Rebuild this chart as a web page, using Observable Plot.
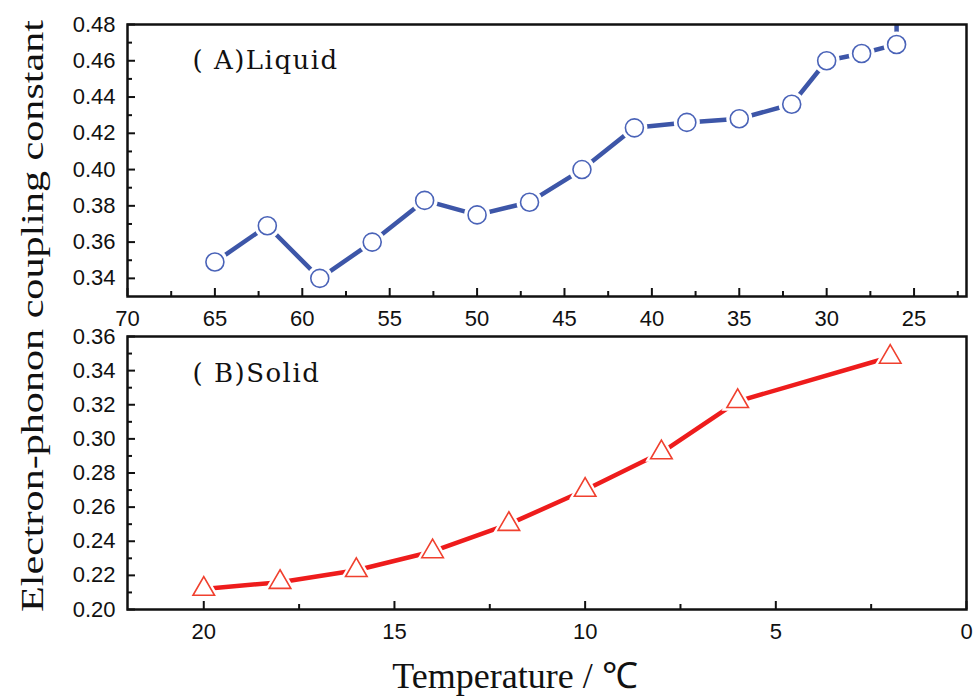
<!DOCTYPE html>
<html><head><meta charset="utf-8">
<script src="https://cdn.jsdelivr.net/npm/d3@7"></script>
<script src="https://cdn.jsdelivr.net/npm/@observablehq/plot@0.6"></script>
<style>
body{margin:0;background:#fff;}
#wrap{position:relative;width:974px;height:698px;overflow:hidden;background:#fff;}
#p1{position:absolute;left:0;top:0;}
#p2{position:absolute;left:0;top:330px;}
#ylab{position:absolute;left:33px;top:316px;transform:translate(-50%,-50%) rotate(-90deg) scale(1.17,0.86);font-family:"Liberation Serif";font-size:36px;line-height:1;white-space:nowrap;color:#111;}
</style>
</head><body>
<div id="wrap"><div id="p1"></div><div id="p2"></div><div id="ylab">Electron-phonon coupling constant</div></div>
<script>
// Panel A: liquid
const liquidTemp = [65, 62, 59, 56, 53, 50, 47, 44, 41, 38, 35, 32, 30, 28, 26];
const liquidEPC  = [0.349, 0.369, 0.340, 0.360, 0.383, 0.375, 0.382, 0.400, 0.423, 0.426, 0.428, 0.436, 0.460, 0.464, 0.469];
const liquidTailTemp = [26, 26];       // line continues upward past the frame
const liquidTailEPC  = [0.469, 0.495];
// Panel B: solid
const solidTemp = [20, 18, 16, 14, 12, 10, 8, 6, 2];
const solidEPC  = [0.212, 0.216, 0.223, 0.234, 0.250, 0.270, 0.292, 0.322, 0.348];
// ticks
const liqXTicks = [70, 65, 60, 55, 50, 45, 40, 35, 30, 25];
const liqXMinor = [67.5, 62.5, 57.5, 52.5, 47.5, 42.5, 37.5, 32.5, 27.5, 22.5];
const liqYTicks = [0.34, 0.36, 0.38, 0.40, 0.42, 0.44, 0.46, 0.48];
const liqYMinor = [0.35, 0.37, 0.39, 0.41, 0.43, 0.45, 0.47];
const solXTicks = [20, 15, 10, 5, 0];
const solXMinor = [17.5, 12.5, 7.5, 2.5];
const solYTicks = [0.20, 0.22, 0.24, 0.26, 0.28, 0.30, 0.32, 0.34, 0.36];
const solYMinor = [0.21, 0.23, 0.25, 0.27, 0.29, 0.31, 0.33, 0.35];
const labelA = "( A)Liquid";
const labelB = "( B)Solid";
const xTitle = "Temperature / ℃";

const liquid = liquidTemp.map((t, i) => ({t, v: liquidEPC[i]}));
const liquidLine = liquid.concat([{t: liquidTailTemp[1], v: liquidTailEPC[1]}]);
const solid = solidTemp.map((t, i) => ({t, v: solidEPC[i]}));

const BLUE = "#3d56a8", BLUE_M = "#4a63b8", RED = "#ee1c1c", RED_M = "#f0402e";
const style = {fontFamily: "Liberation Sans, Arial, sans-serif", fontSize: "22px", color: "#111", background: "white", overflow: "visible"};
const f2 = d3.format(".2f");

function axes(xt, xm, yt, ym) {
  return [
    Plot.axisX({ticks: xt, tickSize: -8, tickPadding: 22, tickFormat: d => String(d), label: null, strokeWidth: 2}),
    Plot.axisX({ticks: xm, tickSize: -5, tickPadding: 0, tickFormat: () => "", label: null, strokeWidth: 2}),
    Plot.axisY({ticks: yt, tickSize: -8, tickPadding: 20, tickFormat: f2, label: null, strokeWidth: 2}),
    Plot.axisY({ticks: ym, tickSize: -5, tickPadding: 0, tickFormat: () => "", label: null, strokeWidth: 2})
  ];
}

const p1 = Plot.plot({
  width: 974, height: 330, marginLeft: 127, marginRight: 8, marginTop: 24, marginBottom: 34,
  style,
  x: {domain: [70, 22]},
  y: {domain: [0.33, 0.48]},
  marks: [
    ...axes(liqXTicks, liqXMinor, liqYTicks, liqYMinor),
    Plot.line(liquidLine, {x: "t", y: "v", stroke: BLUE, strokeWidth: 4.5, clip: true}),
    Plot.dot(liquid, {x: "t", y: "v", r: 13, fill: "white", stroke: null}),
    Plot.dot(liquid, {x: "t", y: "v", r: 9, fill: "white", stroke: BLUE_M, strokeWidth: 1.6}),
    Plot.text([labelA], {frameAnchor: "top-left", dx: 65, dy: 36, textAnchor: "start", lineAnchor: "middle", fontSize: 26, fontFamily: "DejaVu Serif", fill: "#111"}),
    Plot.frame({stroke: "#111", strokeWidth: 2.5})
  ]
});

const p2 = Plot.plot({
  width: 974, height: 368, marginLeft: 127, marginRight: 8, marginTop: 6, marginBottom: 89,
  style,
  x: {domain: [22, 0]},
  y: {domain: [0.20, 0.36]},
  marks: [
    ...axes(solXTicks, solXMinor, solYTicks, solYMinor),
    Plot.line(solid, {x: "t", y: "v", stroke: RED, strokeWidth: 4.5}),
    Plot.dot(solid, {x: "t", y: "v", symbol: "triangle", r: 12, fill: "white", stroke: null}),
    Plot.dot(solid, {x: "t", y: "v", symbol: "triangle", r: 8, fill: "white", stroke: RED_M, strokeWidth: 1.6}),
    Plot.text([labelB], {frameAnchor: "top-left", dx: 65, dy: 37, textAnchor: "start", lineAnchor: "middle", fontSize: 26, fontFamily: "DejaVu Serif", fill: "#111"}),
    Plot.text([xTitle], {frameAnchor: "bottom", dx: -32, dy: 67, lineAnchor: "middle", fontSize: 36, fontFamily: "Liberation Serif", fill: "#111"}),
    Plot.frame({stroke: "#111", strokeWidth: 2.5})
  ]
});

for (const svg of [p1, p2]) {
  svg.querySelectorAll("text").forEach(t => {
    if (t.textContent === labelA || t.textContent === labelB) t.setAttribute("letter-spacing", "1.5");
  });
}
document.getElementById("p1").appendChild(p1);
document.getElementById("p2").appendChild(p2);
</script>
</body></html>
